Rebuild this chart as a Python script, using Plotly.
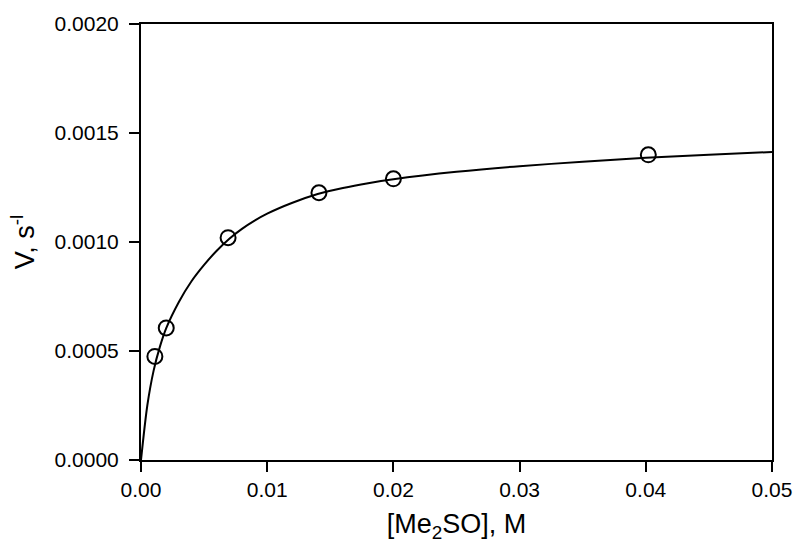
import plotly.graph_objects as go

# Measured data points
conc = [0.0011, 0.0020, 0.0069, 0.0141, 0.0200, 0.0402]
rate = [0.000475, 0.000606, 0.00102, 0.001226, 0.00129, 0.00140]

# Fitted curve
curve_x = [0, 0.0005, 0.001, 0.0015, 0.002, 0.003, 0.004, 0.005, 0.006, 0.007,
           0.008, 0.009, 0.010, 0.012, 0.014, 0.016, 0.018, 0.020, 0.025, 0.030,
           0.035, 0.040, 0.045, 0.050]
curve_y = [0, 0.00025, 0.00041, 0.00052, 0.000605, 0.000725, 0.000820, 0.000895,
           0.000960, 0.001015, 0.001060, 0.001098, 0.001130, 0.001180, 0.001220,
           0.001248, 0.001270, 0.001288, 0.001322, 0.001348, 0.001368, 0.001386,
           0.001400, 0.001413]

x_ticks = [0, 0.01, 0.02, 0.03, 0.04, 0.05]
y_ticks = [0, 0.0005, 0.0010, 0.0015, 0.0020]

fig = go.Figure()
fig.add_trace(go.Scatter(x=curve_x, y=curve_y, mode="lines",
                         line=dict(color="black", width=2, shape="spline",
                                   smoothing=0.8),
                         showlegend=False, hoverinfo="skip"))
fig.add_trace(go.Scatter(x=conc, y=rate, mode="markers",
                         marker=dict(symbol="circle-open", size=15,
                                     color="black", line=dict(width=2)),
                         showlegend=False))

font = "Liberation Sans, Arial, sans-serif"
fig.update_layout(
    width=804, height=553,
    margin=dict(l=141, r=24, t=18, b=93),
    plot_bgcolor="white", paper_bgcolor="white",
    font=dict(family=font, color="black"),
    xaxis=dict(range=[0, 0.05], tickvals=x_ticks, tickformat=".2f",
               ticks="outside", ticklen=10, tickwidth=1.5, tickcolor="black",
               showline=True, linecolor="black", linewidth=2, mirror=True,
               showgrid=False, zeroline=False,
               tickfont=dict(size=21),
               title=dict(text="[Me<sub>2</sub>SO], M", font=dict(size=27),
                          standoff=14)),
    yaxis=dict(range=[0, 0.002], tickvals=y_ticks, tickformat=".4f",
               ticks="outside", ticklen=10, tickwidth=1.5, tickcolor="black",
               showline=True, linecolor="black", linewidth=2, mirror=True,
               showgrid=False, zeroline=False, ticklabelstandoff=6,
               tickfont=dict(size=21),
               title=dict(text="V, s<sup>-l</sup>", font=dict(size=27),
                          standoff=12)),
)

fig.write_html("out.html")
